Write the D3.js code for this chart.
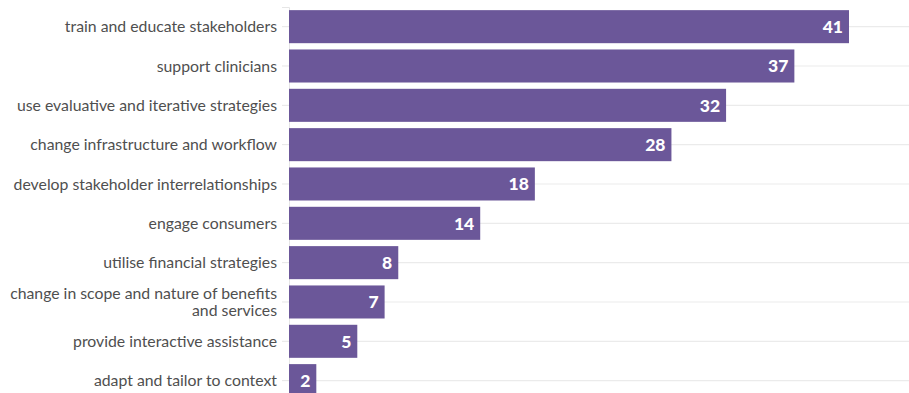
<!DOCTYPE html>
<html>
<head>
<meta charset="utf-8">
<script src="https://cdn.jsdelivr.net/npm/d3@7"></script>
<style>
  html, body { margin: 0; padding: 0; background: #fff; }
  svg { display: block; }
</style>
</head>
<body>
<svg id="chart" width="909" height="393"></svg>
<script>
// Implementation strategy categories and the number of studies using each
const categories = [
  "train and educate stakeholders",
  "support clinicians",
  "use evaluative and iterative strategies",
  "change infrastructure and workflow",
  "develop stakeholder interrelationships",
  "engage consumers",
  "utilise financial strategies",
  "change in scope and nature of benefits\nand services",
  "provide interactive assistance",
  "adapt and tailor to context"
];
const counts = [41, 37, 32, 28, 18, 14, 8, 7, 5, 2];

const width = 909, height = 393;
const margin = { left: 289, right: 0, top: 7, bottom: 0 };

const svg = d3.select("#chart");

const x = d3.scaleLinear()
  .domain([0, 41])
  .range([margin.left, 849]);

const y = d3.scaleBand()
  .domain(categories)
  .range([margin.top, margin.top + 39.33 * categories.length])
  .paddingInner(0.16)
  .paddingOuter(0.08);

const font = "'Source Sans Pro', Lato, 'Noto Sans', sans-serif";

// horizontal gridlines through each band centre
svg.append("g")
  .selectAll("line")
  .data(categories)
  .join("line")
  .attr("x1", margin.left)
  .attr("x2", width)
  .attr("y1", d => y(d) + y.bandwidth() / 2)
  .attr("y2", d => y(d) + y.bandwidth() / 2)
  .attr("stroke", "#ebebeb")
  .attr("stroke-width", 1.2);

// category axis
const yAxis = svg.append("g")
  .attr("transform", `translate(${margin.left},0)`)
  .call(d3.axisLeft(y).tickSize(7).tickPadding(5).tickFormat(""));
yAxis.select(".domain").attr("stroke", "#e6e6e6");
yAxis.selectAll(".tick line").attr("stroke", "#e6e6e6");

// wrapped category labels
svg.append("g")
  .selectAll("text")
  .data(categories)
  .join("text")
  .attr("x", margin.left - 12)
  .attr("text-anchor", "end")
  .attr("font-family", font)
  .attr("font-size", 15.8)
  .attr("fill", "#4f4f4f")
  .each(function (d) {
    const lines = d.split("\n");
    const cy = y(d) + y.bandwidth() / 2;
    const lh = 17.5;
    const start = cy - (lines.length - 1) * lh / 2;
    d3.select(this).selectAll("tspan")
      .data(lines)
      .join("tspan")
      .attr("x", margin.left - 12)
      .attr("y", (l, i) => start + i * lh)
      .attr("dy", "0.35em")
      .text(l => l);
  });

// bars
svg.append("g")
  .selectAll("rect")
  .data(categories)
  .join("rect")
  .attr("x", x(0))
  .attr("y", d => y(d))
  .attr("width", (d, i) => x(counts[i]) - x(0))
  .attr("height", y.bandwidth())
  .attr("fill", "#6b5799");

// value labels inside the bar ends
svg.append("g")
  .selectAll("text")
  .data(categories)
  .join("text")
  .attr("x", (d, i) => x(counts[i]) - 6)
  .attr("y", d => y(d) + y.bandwidth() / 2)
  .attr("dy", "0.36em")
  .attr("text-anchor", "end")
  .attr("font-family", font)
  .attr("font-weight", 900)
  .attr("font-size", 17.5)
  .attr("fill", "#fff")
  .text((d, i) => counts[i]);
</script>
</body>
</html>
